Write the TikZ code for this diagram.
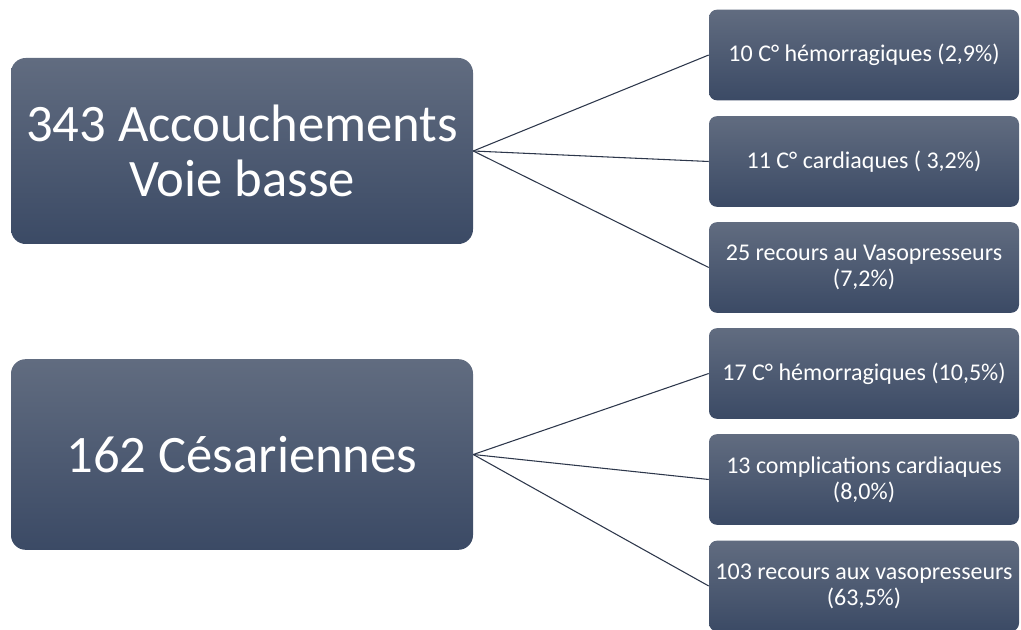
\documentclass[tikz,border=0pt]{standalone}
\usepackage{fontspec}
\setmainfont{Carlito}
\definecolor{boxtop}{RGB}{97,108,128}
\definecolor{boxbot}{RGB}{59,74,101}
\definecolor{linkcol}{RGB}{45,55,75}
\tikzset{
	bigbox/.style={rounded corners=11pt, top color=boxtop, bottom color=boxbot, draw=none,
		text=white, align=center, minimum width=346.5pt, font=\fontsize{39.5}{41.5}\selectfont},
	smallbox/.style={rounded corners=6pt, top color=boxtop, bottom color=boxbot, draw=none,
		text=white, align=center, minimum width=232.5pt, minimum height=68pt, font=\fontsize{18}{19.5}\selectfont},
	link/.style={draw=linkcol, line width=0.8pt}
}

\begin{document}
\begin{tikzpicture}[x=0.75pt,y=-0.75pt]
	\useasboundingbox (0,0) rectangle (1021,630);
	% left boxes
	\node[bigbox, minimum height=139.5pt] (vb) at (242,151){343 Accouchements\\Voie basse};
	\node[bigbox, minimum height=143pt] (ces) at (242,454.5){162 Césariennes};
	% right boxes
	\node[smallbox] (vb1) at (864,55){10 C° hémorragiques (2,9\%)};%1
	\node[smallbox] (vb2) at (864,161.5){11 C° cardiaques ( 3,2\%)};%2
	\node[smallbox] (vb3) at (864,267.5){25 recours au Vasopresseurs\\(7,2\%)};%3
	\node[smallbox] (ces1) at (864,373.5){17 C° hémorragiques (10,5\%)};%4
	\node[smallbox] (ces2) at (864,479.5){13 complications cardiaques\\(8,0\%)};%5
	\node[smallbox] (ces3) at (864,586){103 recours aux vasopresseurs\\(63,5\%)};%6
	% links
	\foreach \t in {vb1,vb2,vb3}
		\draw[link] (vb.east) -- (\t.west);
	\foreach \t in {ces1,ces2,ces3}
		\draw[link] (ces.east) -- (\t.west);
\end{tikzpicture}
\end{document}
